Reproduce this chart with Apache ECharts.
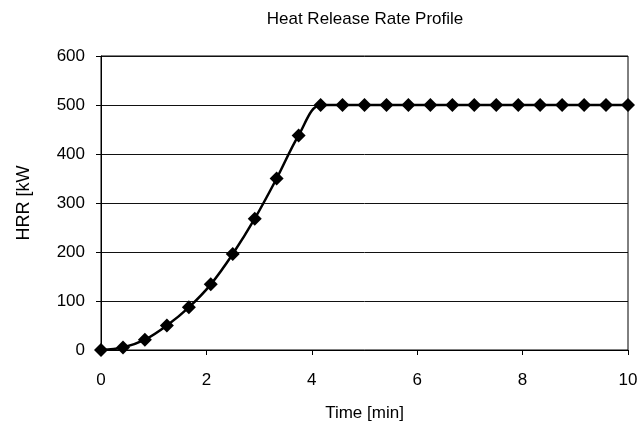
<!DOCTYPE html>
<html>
<head>
<meta charset="utf-8">
<script src="https://cdn.jsdelivr.net/npm/echarts@6/dist/echarts.min.js"></script>
<style>
  html, body { margin: 0; padding: 0; background: #fff; }
  #main { width: 643px; height: 432px; }
</style>
</head>
<body>
<div id="main"></div>
<script>
// time in minutes (25 s steps)
const timeMin = [0, 0.417, 0.833, 1.25, 1.667, 2.083, 2.5, 2.917, 3.333, 3.75, 4.167,
                 4.583, 5, 5.417, 5.833, 6.25, 6.667, 7.083, 7.5, 7.917, 8.333, 8.75, 9.167, 9.583, 10];
// heat release rate, kW
const hrrKw = [0, 5, 21, 50, 87, 134, 196, 268, 350, 438, 500,
               500, 500, 500, 500, 500, 500, 500, 500, 500, 500, 500, 500, 500, 500];
const xTicks = [0, 2, 4, 6, 8, 10];
const yTicks = [0, 100, 200, 300, 400, 500, 600];

const font = 'Liberation Sans, Arial, sans-serif';
const chart = echarts.init(document.getElementById('main'));

const points = timeMin.map(function (t, i) { return [t, hrrKw[i]]; });

const option = {
    backgroundColor: '#fff',
    animation: false,
    title: {
        text: 'Heat Release Rate Profile',
        left: 360,
        textAlign: 'center',
        top: 6,
        textStyle: { fontFamily: font, fontSize: 17, fontWeight: 'normal', color: '#000' }
    },
    grid: {
        left: 101, right: 15, top: 56, bottom: 82,
        show: true, borderColor: '#000', borderWidth: 1
    },
    xAxis: {
        type: 'value',
        min: xTicks[0],
        max: xTicks[xTicks.length - 1],
        interval: 2,
        name: 'Time [min]',
        nameLocation: 'middle',
        nameGap: 55,
        nameTextStyle: { fontFamily: font, fontSize: 17, color: '#000' },
        axisLine: { lineStyle: { color: '#000', width: 1 } },
        axisTick: { show: true, inside: false, length: 5, lineStyle: { color: '#000' } },
        axisLabel: { fontFamily: font, fontSize: 17, color: '#000', margin: 22 },
        splitLine: { show: false }
    },
    yAxis: {
        type: 'value',
        min: yTicks[0],
        max: yTicks[yTicks.length - 1],
        interval: 100,
        name: 'HRR [kW',
        nameLocation: 'middle',
        nameGap: 68,
        nameTextStyle: { fontFamily: font, fontSize: 18, color: '#000' },
        axisLine: { show: true, lineStyle: { color: '#000', width: 1 } },
        axisTick: { show: true, inside: false, length: 5, lineStyle: { color: '#000' } },
        axisLabel: { fontFamily: font, fontSize: 17, color: '#000', margin: 16 },
        splitLine: { show: true, lineStyle: { color: '#111', width: 1 } }
    },
    series: [
        {
            type: 'line',
            data: points,
            smooth: 0.35,
            symbol: 'diamond',
            symbolSize: 14,
            lineStyle: { color: '#000', width: 2.5 },
            itemStyle: { color: '#000' }
        }
    ]
};

chart.setOption(option);
</script>
</body>
</html>
